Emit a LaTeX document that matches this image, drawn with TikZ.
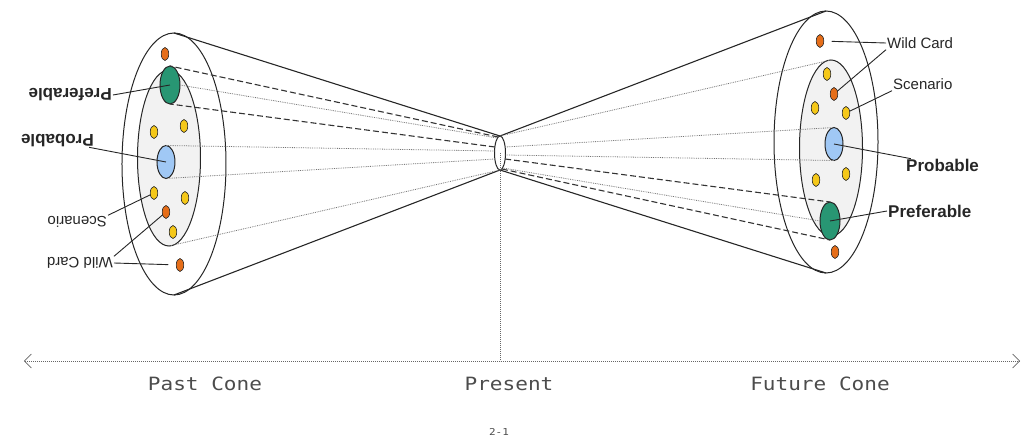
\documentclass[tikz,border=0pt]{standalone}
\usepackage{fontspec}
\setmainfont{Liberation Sans}
\newfontfamily\axisfont[FakeStretch=1.15]{DejaVu Sans Mono}
\usetikzlibrary{shapes.geometric,arrows.meta}
\definecolor{prefgreen}{RGB}{40,150,115}
\definecolor{probblue}{RGB}{160,200,245}
\definecolor{wildorange}{RGB}{230,110,25}
\definecolor{scenyellow}{RGB}{245,200,25}
\definecolor{innergray}{RGB}{242,242,242}

\begin{document}
\begin{tikzpicture}[x=1pt,y=1pt,
  blob/.style={ellipse, draw=black!85, line width=1pt, inner sep=0pt, outer sep=0pt},
  dot/.style={blob, line width=0.6pt, minimum width=7.5pt, minimum height=13pt},
  rim/.style={draw=black!85, line width=1.1pt},
  guide/.style={draw=black!55, line width=0.8pt, densely dotted},
  track/.style={draw=black!80, line width=1.1pt, dash pattern=on 6pt off 3pt},
  lead/.style={draw=black!85, line width=0.9pt},
  tag/.style={font=\fontsize{15}{17}\selectfont, text=black!85, anchor=west, inner sep=1pt},
  bigtag/.style={tag, font=\fontsize{17}{19}\selectfont\bfseries},
  axis/.style={draw=black!60, line width=0.7pt, dash pattern=on 0.8pt off 1.2pt},
  axislabel/.style={font=\axisfont\fontsize{18.3}{20}\selectfont, text=black!70}]

  \useasboundingbox (-500,-288) rectangle (535,153);
  \node[blob, fill=white, minimum width=11pt, minimum height=34pt] (present) at (0,0) {};

  \foreach \s/\rot in {f/0, p/180}{
    \begin{scope}[rotate=\rot, transform shape]
      \coordinate (\s-n) at (0,17);
      \coordinate (\s-s) at (0,-17);
      \coordinate (\s-a) at (5.15,6);
      \coordinate (\s-b) at (5.46,-2);
      \coordinate (\s-c) at (5.1,-6);
      \coordinate (\s-d) at (2.6,-15);
      \coordinate (\s-e) at (1.9,-16);
      \node[blob, minimum width=104pt, minimum height=262pt] (\s-outer) at (326,11) {};
      \node[blob, fill=innergray, minimum width=63pt, minimum height=176pt] (\s-inner) at (331,5) {};
      \draw[rim] (\s-n) -- (\s-outer.north);
      \draw[rim] (\s-s) -- (\s-outer.south);
      \draw[guide] (\s-n) -- (\s-inner.north);
      \node[blob, fill=prefgreen, minimum width=20pt, minimum height=38pt] (\s-pref) at (330,-68) {};
      \node[blob, fill=probblue, minimum width=18pt, minimum height=33pt] (\s-prob) at (334,9) {};
      \draw[guide] (\s-a) -- (\s-prob.north);
      \draw[guide] (\s-b) -- (\s-prob.south);
      \draw[track] (\s-c) -- (\s-pref.north);
      \draw[track] (\s-e) -- (\s-pref.south);
      \draw[guide] (\s-d) -- (\s-pref.west);
      \foreach \x/\y/\c [count=\k] in {320/112/wildorange, 327/79/scenyellow,
          334/59/wildorange, 315/45/scenyellow, 346/40/scenyellow,
          316/-27/scenyellow, 346/-21/scenyellow, 335/-99/wildorange}
        \node[dot, fill=\c] (\s-dot\k) at (\x,\y) {};
      \node[tag] (\s-wild) at (386,110) {Wild Card};
      \node[tag] (\s-scen) at (392,69) {Scenario};
      \node[bigtag] (\s-probtag) at (405,-12) {Probable};
      \node[bigtag] (\s-preftag) at (387,-58) {Preferable};
      \draw[lead, shorten >=8pt] (\s-wild.west) -- (\s-dot1);
      \draw[lead] (\s-wild.south west) -- (\s-dot3);
      \draw[lead] (\s-scen.south west) -- (\s-dot5);
      \draw[lead, shorten <=-6pt] (\s-probtag.north west) -- (\s-prob.center);
      \draw[lead] (\s-preftag.west) -- (\s-pref.center);
    \end{scope}
  }

  \coordinate (axl) at (-476,-208);
  \coordinate (axm) at (0,-208);
  \coordinate (axr) at (520,-208);
  \draw[axis, {Straight Barb[length=7pt,width=14pt]}-{Straight Barb[length=7pt,width=14pt]}] (axl) -- (axr);
  \draw[axis] (present.center) -- (axm);

  \node[axislabel] (pastlbl) at (-295,-231) {Past Cone};
  \node[axislabel] (nowlbl) at (9,-231) {Present};
  \node[axislabel] (futurelbl) at (320,-231) {Future Cone};
  \node[axislabel, font=\axisfont\fontsize{9.5}{11}\selectfont] (figno) at (-1,-279) {2-1};
\end{tikzpicture}
\end{document}
